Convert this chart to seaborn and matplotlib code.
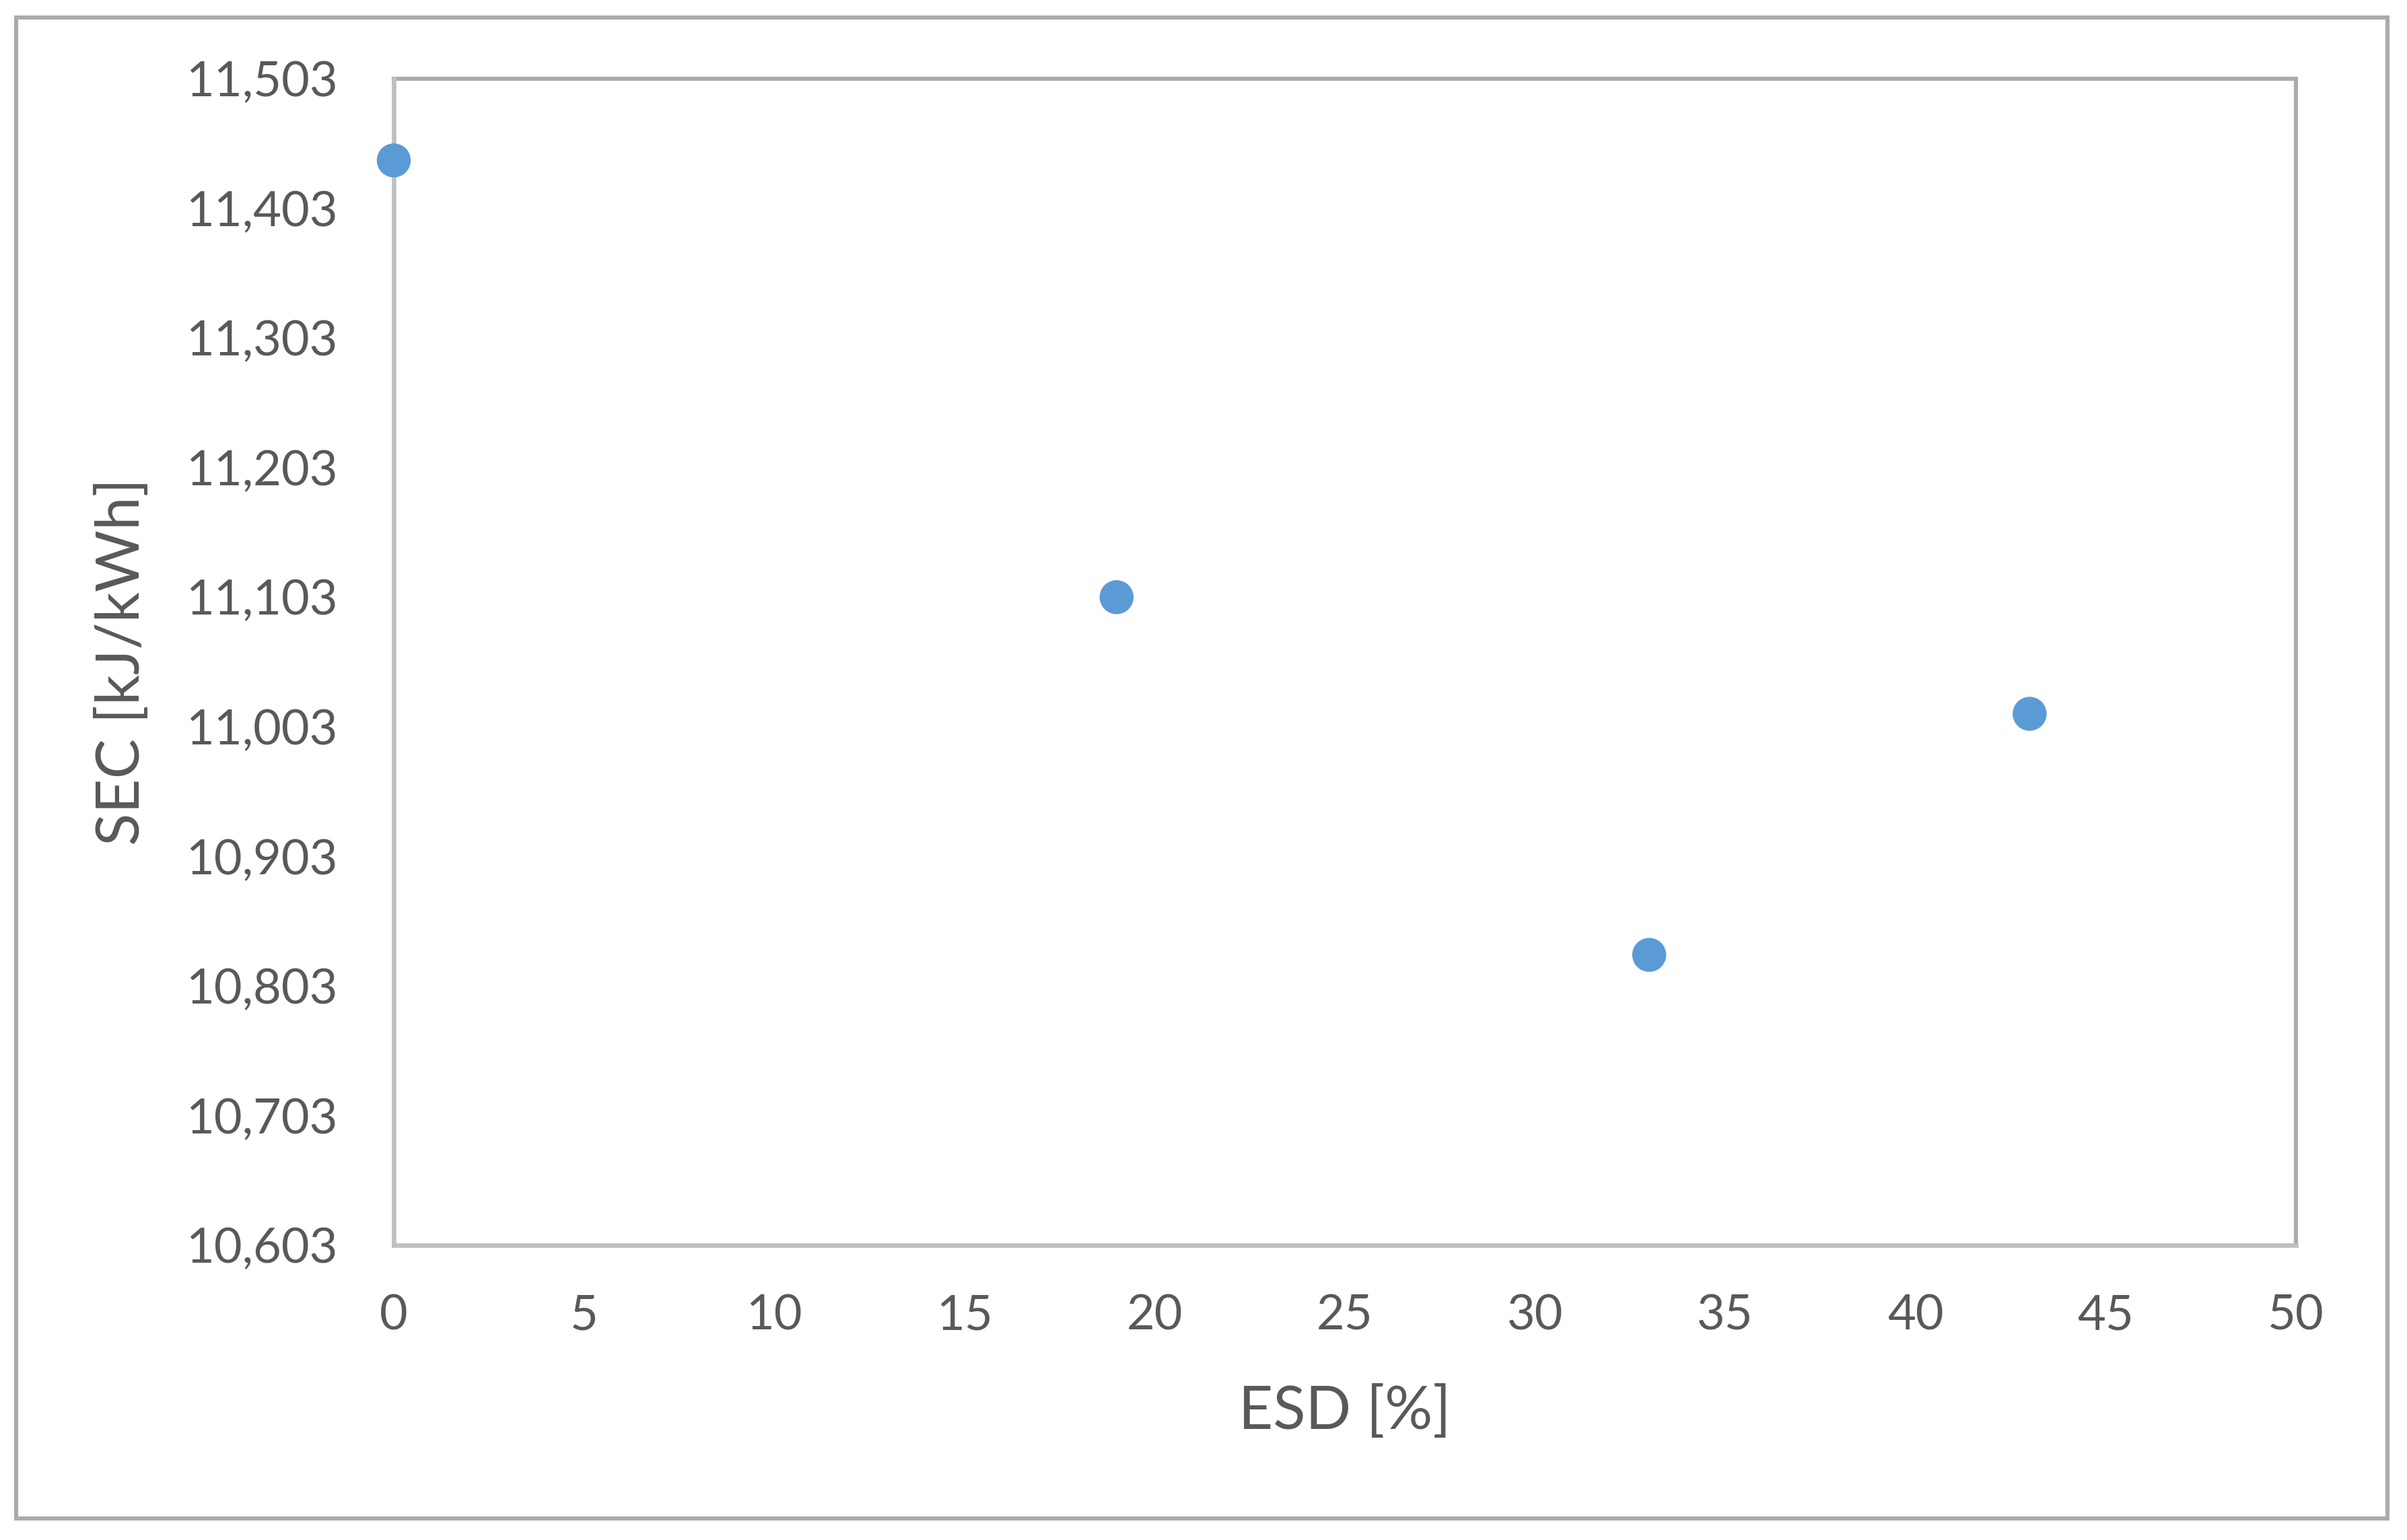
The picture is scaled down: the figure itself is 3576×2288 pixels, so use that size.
import matplotlib
matplotlib.use("Agg")
import matplotlib.pyplot as plt
import seaborn as sns
import pandas as pd
from matplotlib.patches import Rectangle
from matplotlib.ticker import FuncFormatter

# Data
esd = [0, 19, 33, 43]
sec = [11440, 11103, 10827, 11013]
x_ticks = [0, 5, 10, 15, 20, 25, 30, 35, 40, 45, 50]
y_ticks = [10603, 10703, 10803, 10903, 11003, 11103, 11203, 11303, 11403, 11503]
x_label = "ESD [%]"
y_label = "SEC [kJ/kWh]"

df = pd.DataFrame({"ESD": esd, "SEC": sec})

sns.set_theme(style="white")
plt.rcParams["font.family"] = ["Lato", "DejaVu Sans"]

W, H, DPI = 3576, 2288, 200
fig = plt.figure(figsize=(W / DPI, H / DPI), dpi=DPI)
ax = fig.add_axes([585 / W, 1 - 1850 / H, (3411 - 585) / W, (1850 - 117) / H])

sns.scatterplot(data=df, x="ESD", y="SEC", ax=ax, s=330, color="#5B9BD5",
                edgecolor="none", linewidth=0, zorder=5, clip_on=False)

ax.set_xlim(0, 50)
ax.set_ylim(10603, 11503)
ax.set_xticks(x_ticks)
ax.set_yticks(y_ticks)
ax.yaxis.set_major_formatter(FuncFormatter(lambda v, p: f"{int(round(v)):,}"))

txt = "#595959"
ax.tick_params(axis="both", length=0, labelsize=26, labelcolor=txt)
ax.tick_params(axis="y", pad=30)
ax.tick_params(axis="x", pad=26)

ax.set_xlabel(x_label, fontsize=32, color=txt)
ax.set_ylabel(y_label, fontsize=32, color=txt)
ax.xaxis.set_label_coords(0.5, (1850 - 2098) / 1733)
ax.xaxis.label.set_va("center")
ax.yaxis.set_label_coords((182 - 585) / 2826, 0.5)
ax.yaxis.label.set_va("center")
ax.yaxis.label.set_ha("center")

for side in ["top", "right"]:
    ax.spines[side].set_color("#ABABAB")
    ax.spines[side].set_linewidth(2.2)
for side in ["left", "bottom"]:
    ax.spines[side].set_color("#BFBFBF")
    ax.spines[side].set_linewidth(2.4)
    ax.spines[side].set_zorder(3)

# outer chart border
fig.patches.append(Rectangle((24 / W, 1 - 2256 / H), (3547 - 24) / W, (2256 - 26) / H,
                             transform=fig.transFigure, fill=False,
                             edgecolor="#AEAAAA", linewidth=2.2))

fig.savefig("out.png", dpi=DPI, facecolor="white")
